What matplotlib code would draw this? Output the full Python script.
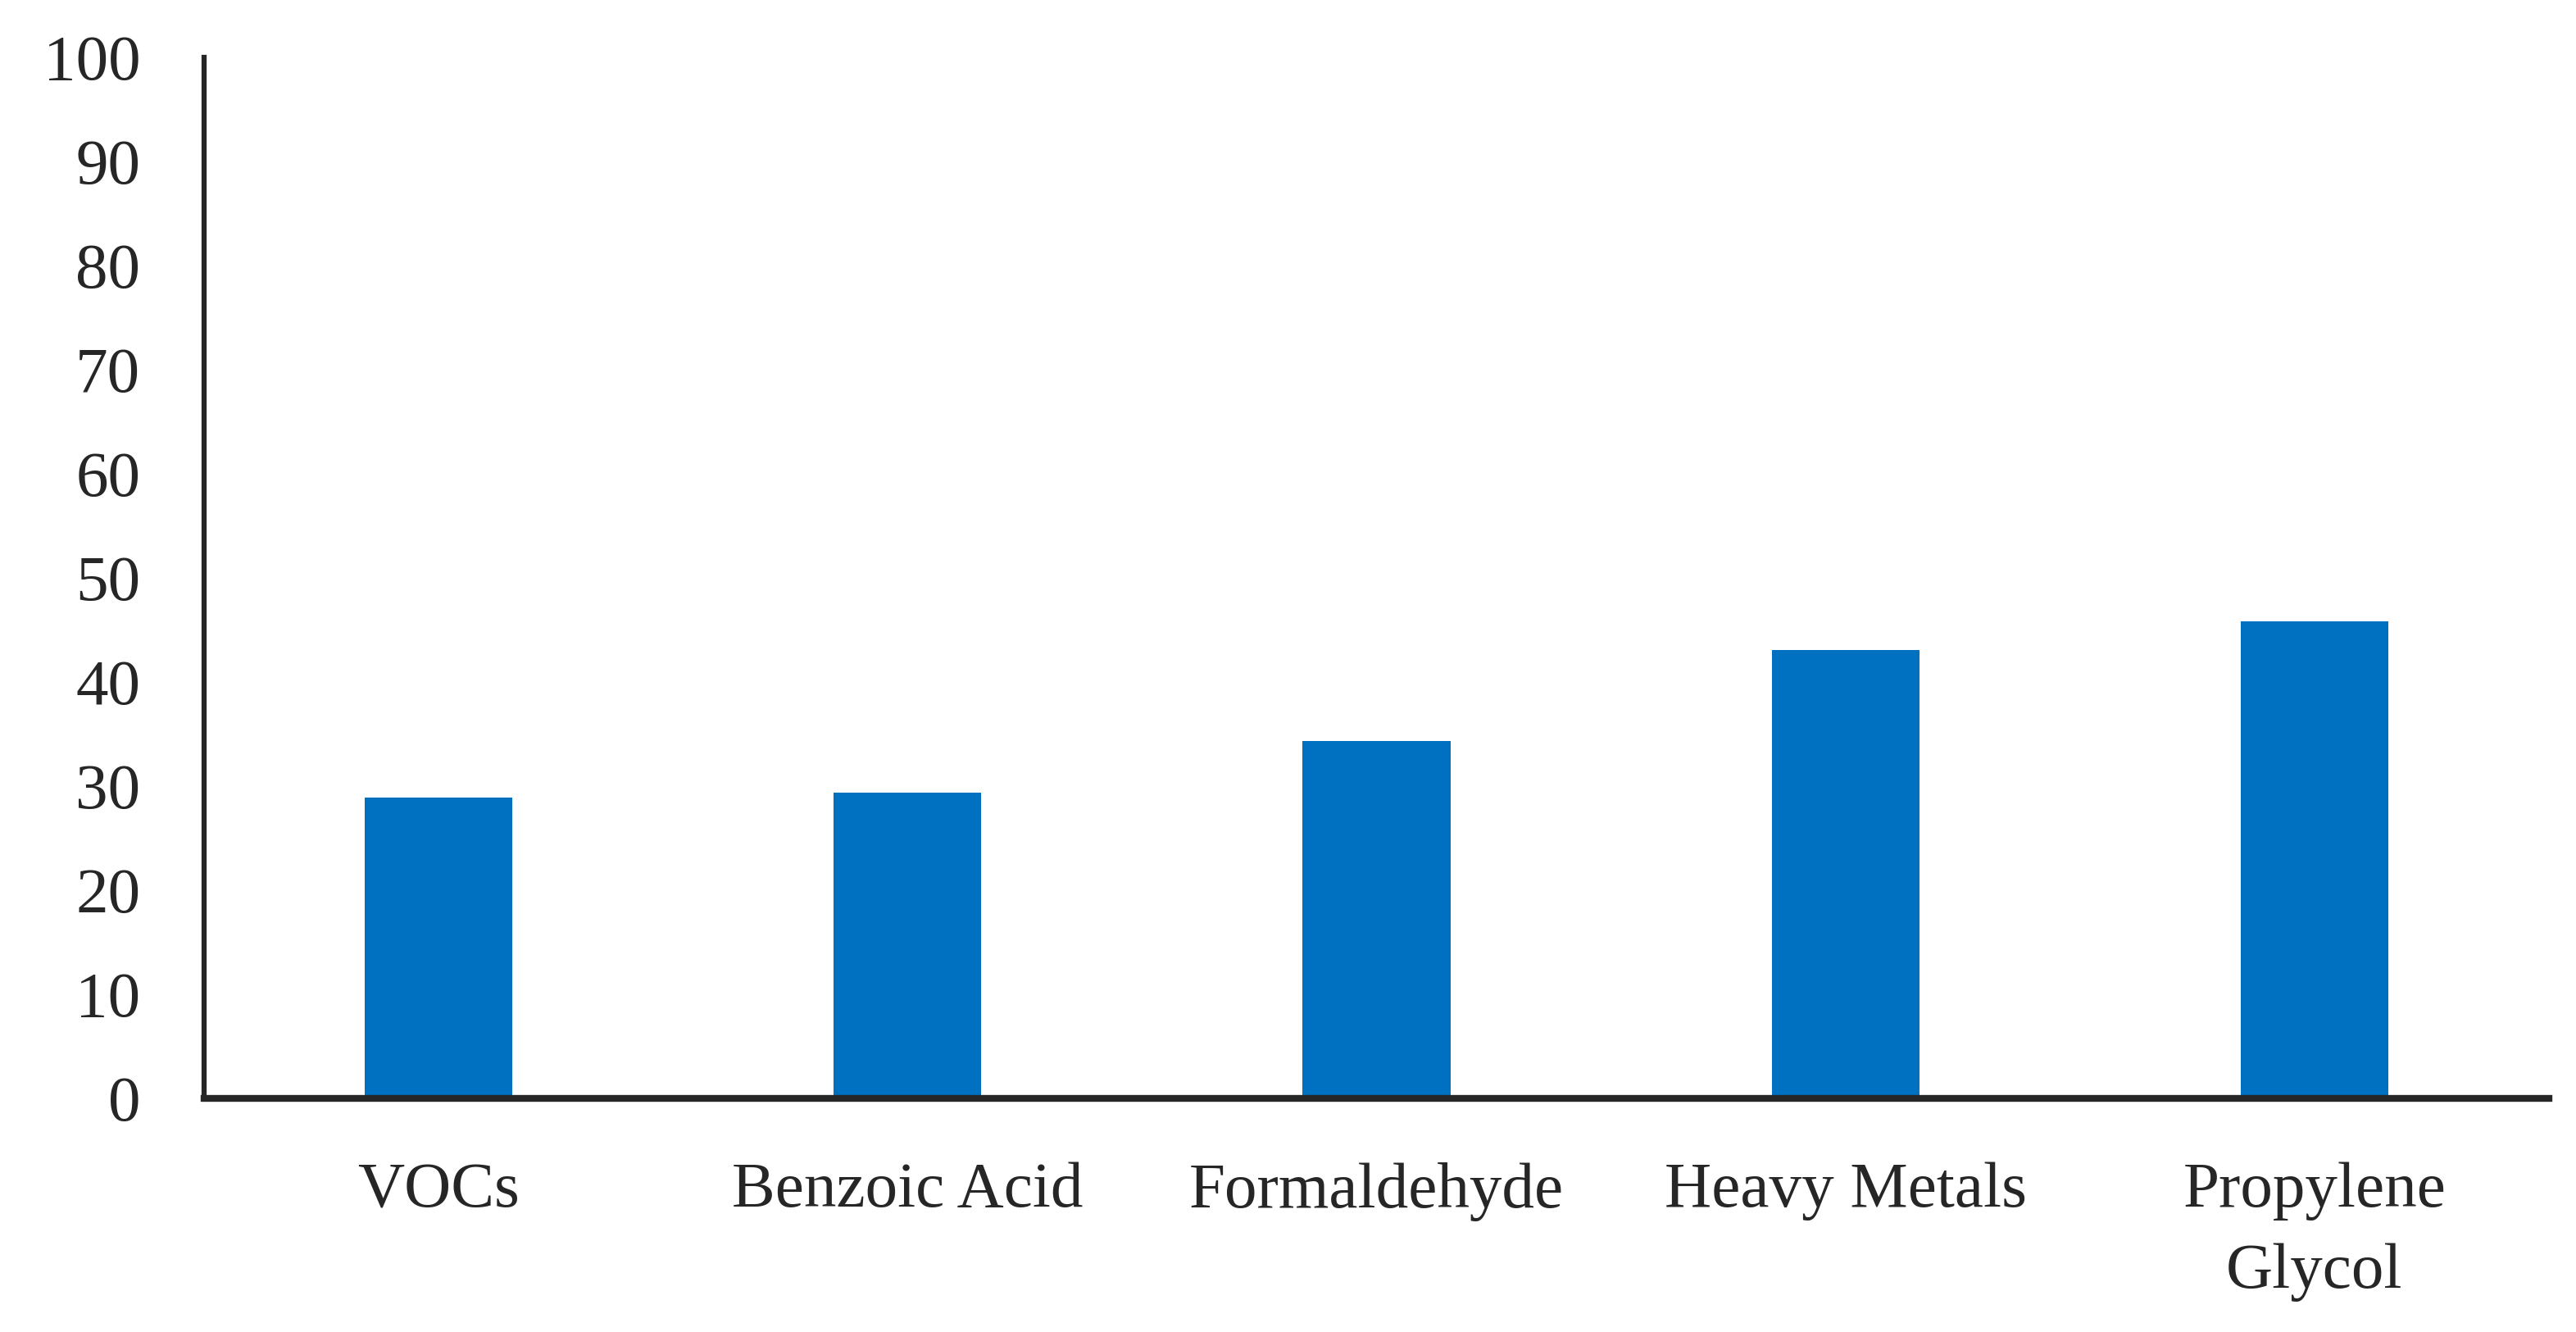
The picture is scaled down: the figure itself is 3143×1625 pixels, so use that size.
import numpy as np
import matplotlib.pyplot as plt

# data
categories = ["VOCs", "Benzoic Acid", "Formaldehyde", "Heavy Metals", "Propylene\nGlycol"]
values = [28.9, 29.4, 34.3, 43.1, 45.8]
yticks = list(range(0, 101, 10))

plt.rcParams['font.family'] = ['Liberation Serif', 'DejaVu Serif']

fig = plt.figure(figsize=(31.43, 16.25), dpi=100)
ax = fig.add_axes([0.0792, 0.1754, 0.9103, 0.7815])

x = np.arange(len(categories))
ax.bar(x, values, width=0.315, color='#0070C0', zorder=2)

ax.set_xlim(-0.5, len(categories) - 0.5)
ax.set_ylim(0, 100)
ax.set_yticks(yticks)
ax.set_xticks(x)
ax.set_xticklabels(categories)
for t in ax.get_xticklabels():
    t.set_linespacing(1.5)

for side in ['top', 'right']:
    ax.spines[side].set_visible(False)
ax.spines['left'].set_linewidth(4.5)
ax.spines['bottom'].set_linewidth(6)
for side in ['left', 'bottom']:
    ax.spines[side].set_color('#262626')

ax.tick_params(axis='y', length=0, pad=56, labelsize=57, labelcolor='#262626')
ax.tick_params(axis='x', length=0, pad=56, labelsize=57, labelcolor='#262626')

fig.savefig('out.png', dpi=100)
